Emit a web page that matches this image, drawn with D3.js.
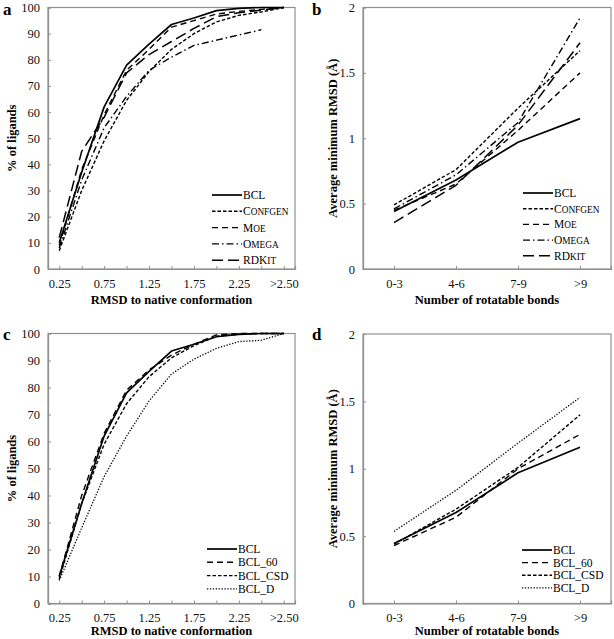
<!DOCTYPE html>
<html><head><meta charset="utf-8">
<script src="https://cdn.jsdelivr.net/npm/d3@7"></script>
<style>body{margin:0;background:#fff}svg{display:block}</style>
</head><body>
<svg id="c" width="614" height="639"></svg>
<script>
// ---------- data ----------
const rmsdCats = ["0.25","0.50","0.75","1.00","1.25","1.50","1.75","2.00","2.25","2.50",">2.50"];
const rmsdTickLabels = ["0.25","0.75","1.25","1.75","2.25",">2.50"];
const pctTicks = [0,10,20,30,40,50,60,70,80,90,100];
const bondCats = ["0-3","4-6","7-9",">9"];
const rmsdTicks = [0,0.5,1,1.5,2];

// panel a
const aNames = ["BCL","Confgen","Moe","Omega","RDKit"];
const aBCL     = [10, 37, 62, 78, 86, 93.5, 96, 98.8, 99.7, 100, 100];
const aConfgen = [7, 30, 49, 64.5, 75.5, 84, 90, 94.5, 97, 98.3, 100];
const aMoe     = [9, 38, 59, 76, 84, 92.5, 95, 97.5, 98.5, 99.3, 100];
const aOmega   = [8, 34, 54, 66, 76, 81, 85.5, 87.5, 89.5, 91.5];
const aRDKit   = [12, 45, 58, 75, 82, 87, 92, 96.5, 98, 99, 100];

// panel b
const bNames = ["BCL","Confgen","Moe","Omega","RDkit"];
const bBCL     = [0.44, 0.68, 0.97, 1.15];
const bConfgen = [0.49, 0.76, 1.23, 1.67];
const bMoe     = [0.45, 0.65, 1.06, 1.50];
const bOmega   = [0.46, 0.72, 1.12, 1.92];
const bRDKit   = [0.355, 0.64, 1.10, 1.73];

// panel c
const cNames = ["BCL","BCL_60","BCL_CSD","BCL_D"];
const cBCL    = [10, 37, 62, 78, 86, 93.5, 96, 98.8, 99.7, 100, 100];
const cBCL60  = [10, 40, 63, 79, 86.5, 92, 96, 99.5, 100, 100, 100];
const cBCLCSD = [9, 37, 59, 74, 84, 91, 95.5, 99, 99.7, 100, 100];
const cBCLD   = [8.5, 28, 47, 62, 75, 85, 90.5, 94.5, 97, 97.5, 100];

// panel d
const dNames = ["BCL","BCL_60","BCL_CSD","BCL_D"];
const dBCL    = [0.445, 0.675, 0.97, 1.16];
const dBCL60  = [0.43, 0.64, 1.0, 1.255];
const dBCLCSD = [0.44, 0.70, 1.01, 1.40];
const dBCLD   = [0.535, 0.84, 1.19, 1.53];

// ---------- styles ----------
const ST = {
  solid:  {dash:null, w:1.7},
  short:  {dash:"3.5,2", w:1.4},
  medium: {dash:"6,4", w:1.4},
  dashdot:{dash:"7,3,1.5,3", w:1.4},
  long:   {dash:"11,5", w:1.5},
  dot:    {dash:"1.3,1.6", w:1.3}
};
const FONT = "'Liberation Serif','Times New Roman',serif";
const AXC = "#8f8f8f";
const svg = d3.select("#c");

function smallCaps(textSel, label, big, small){
  // uppercase letters full size; lowercase rendered as small capitals
  const parts = [];
  for (const ch of label){
    const isLow = ch !== ch.toUpperCase();
    const last = parts[parts.length-1];
    if (last && last.low === isLow) last.s += ch.toUpperCase();
    else parts.push({low:isLow, s:ch.toUpperCase()});
  }
  parts.forEach(p => textSel.append("tspan").attr("font-size", p.low ? small : big).text(p.s));
}

function panel(o){
  const g = svg.append("g");
  const x = d3.scalePoint().domain(o.cats).range([o.L, o.R]).padding(0.5);
  const y = d3.scaleLinear().domain(o.yDom).range([o.B, o.T]);

  // box
  g.append("rect").attr("x", o.L).attr("y", o.T).attr("width", o.R-o.L).attr("height", o.B-o.T)
    .attr("fill","none").attr("stroke", AXC).attr("stroke-width",1.2);

  // y axis
  const ya = d3.axisLeft(y).tickValues(o.yTicks).tickSize(-3).tickPadding(8).tickFormat(o.yFmt);
  const yg = g.append("g").attr("transform",`translate(${o.L},0)`).call(ya);
  yg.select(".domain").attr("stroke", AXC).attr("stroke-width",1.2);
  yg.selectAll(".tick line").attr("stroke", AXC);
  yg.selectAll("text").attr("font-family",FONT).attr("font-size",12.5).attr("fill","#111");

  // x axis
  const xa = d3.axisBottom(x).tickSize(-3).tickPadding(10)
    .tickFormat(d => o.xLabels.includes(d) ? d : "");
  const xg = g.append("g").attr("transform",`translate(0,${o.B})`).call(xa);
  xg.select(".domain").attr("stroke", AXC).attr("stroke-width",1.2);
  xg.selectAll(".tick line").attr("stroke", AXC);
  xg.selectAll("text").attr("font-family",FONT).attr("font-size",12.5).attr("fill","#111");

  // titles
  g.append("text").attr("x",(o.L+o.R)/2).attr("y",o.B+o.xTitleDy).attr("text-anchor","middle")
    .attr("font-family",FONT).attr("font-weight","bold").attr("font-size",12.5).text(o.xTitle);
  g.append("text").attr("transform",`translate(${o.yTitleX},${(o.T+o.B)/2}) rotate(-90)`)
    .attr("text-anchor","middle").attr("font-family",FONT).attr("font-weight","bold")
    .attr("font-size",12.5).text(o.yTitle);
  g.append("text").attr("x",o.lab[0]).attr("y",o.lab[1]).attr("font-family",FONT)
    .attr("font-weight","bold").attr("font-size",17).text(o.letter);

  // lines
  const line = d3.line().x((d,i)=>x(o.cats[i])).y(d=>y(d));
  o.series.forEach((s,k)=>{
    const st = ST[o.styles[k]];
    g.append("path").datum(s).attr("d", line).attr("fill","none").attr("stroke","#000")
      .attr("stroke-width", st.w).attr("stroke-dasharray", st.dash).attr("stroke-linejoin","round");
  });

  // legend
  o.names.forEach((n,k)=>{
    const st = ST[o.styles[k]];
    const yy = o.leg.y + k*o.leg.dy;
    g.append("line").attr("x1",o.leg.x).attr("x2",o.leg.x+30).attr("y1",yy).attr("y2",yy)
      .attr("stroke","#000").attr("stroke-width",st.w).attr("stroke-dasharray",st.dash);
    const t = g.append("text").attr("x",o.leg.x+31).attr("y",yy+4)
      .attr("font-family",FONT).attr("font-size",11.5);
    if (o.smallCaps) smallCaps(t, n, 11.5, 9.3); else t.text(n);
  });
}

panel({cats:rmsdCats, xLabels:rmsdTickLabels, yDom:[0,100], yTicks:pctTicks, yFmt:d3.format("d"),
  L:48, R:295, T:7.5, B:269, xTitleDy:35, xTitle:"RMSD to native conformation", yTitle:"% of ligands", yTitleX:16,
  letter:"a", lab:[3,15], names:aNames, smallCaps:true,
  series:[aBCL,aConfgen,aMoe,aOmega,aRDKit], styles:["solid","short","medium","dashdot","long"],
  leg:{x:212, y:195, dy:16.3}});

panel({cats:bondCats, xLabels:bondCats, yDom:[0,2], yTicks:rmsdTicks, yFmt:d=>String(d),
  L:363, R:611, T:7.5, B:269, xTitleDy:35, xTitle:"Number of rotatable bonds", yTitle:"Average minimum RMSD (Å)", yTitleX:337,
  letter:"b", lab:[312,15], names:bNames, smallCaps:true,
  series:[bBCL,bConfgen,bMoe,bOmega,bRDKit], styles:["solid","short","medium","dashdot","long"],
  leg:{x:523, y:193, dy:15.7}});

panel({cats:rmsdCats, xLabels:rmsdTickLabels, yDom:[0,100], yTicks:pctTicks, yFmt:d3.format("d"),
  L:48, R:295, T:333.5, B:603.5, xTitleDy:31.5, xTitle:"RMSD to native conformation", yTitle:"% of ligands", yTitleX:16,
  letter:"c", lab:[3,340], names:cNames, smallCaps:false,
  series:[cBCL,cBCL60,cBCLCSD,cBCLD], styles:["solid","medium","short","dot"],
  leg:{x:207, y:549, dy:13.3}});

panel({cats:bondCats, xLabels:bondCats, yDom:[0,2], yTicks:rmsdTicks, yFmt:d=>String(d),
  L:363, R:611, T:334, B:603.5, xTitleDy:31.5, xTitle:"Number of rotatable bonds", yTitle:"Average minimum RMSD (Å)", yTitleX:337,
  letter:"d", lab:[312,340], names:dNames, smallCaps:false,
  series:[dBCL,dBCL60,dBCLCSD,dBCLD], styles:["solid","medium","short","dot"],
  leg:{x:522, y:550, dy:12.6}});
</script>
</body></html>
